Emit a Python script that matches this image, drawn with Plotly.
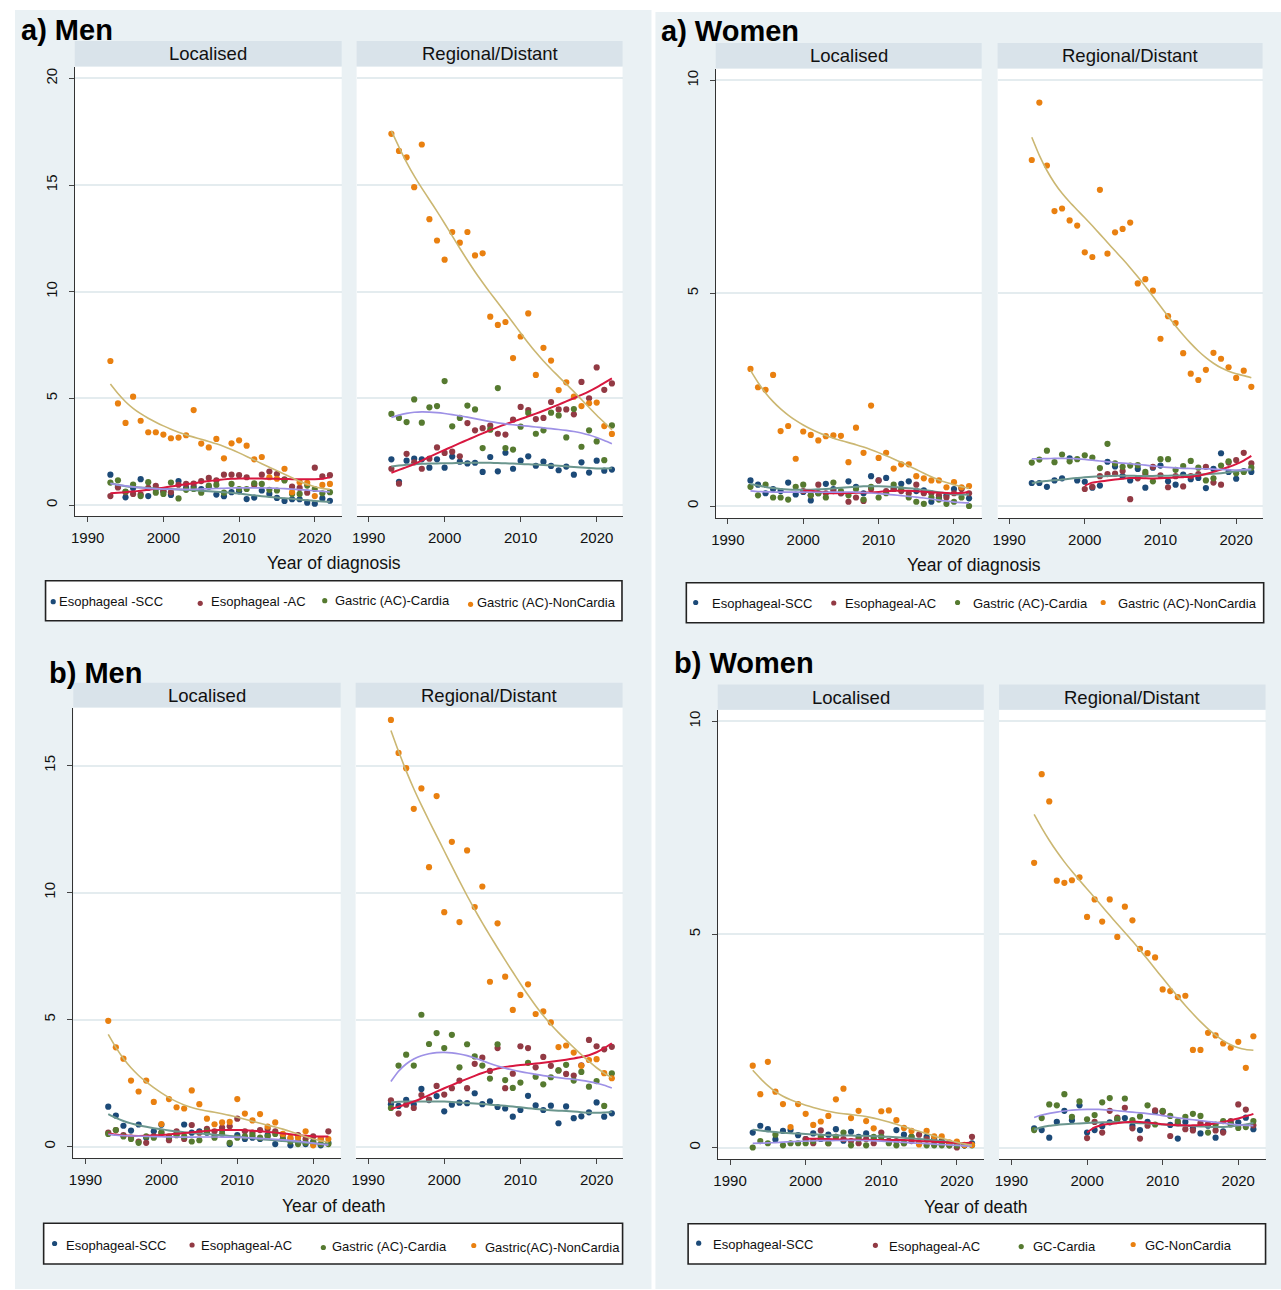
import numpy as np
import plotly.graph_objects as go

W, H = 1281, 1290
years = list(range(1993, 2023))
years_ac_women = list(range(2000, 2023))

# ---------------- a) Men : year of diagnosis ----------------
am_loc_scc = [1.42,0.85,0.36,0.8,1.21,0.42,0.75,0.64,0.47,1.12,0.8,0.85,0.75,0.85,0.49,0.41,0.6,0.64,0.28,0.35,0.68,0.52,0.33,0.19,0.27,0.27,0.11,0.06,0.31,0.2]
am_loc_ac = [0.42,0.82,0.6,0.52,0.5,0.8,0.9,0.65,0.6,0.95,0.99,1.0,1.12,1.27,1.15,1.42,1.42,1.4,1.3,0.94,1.42,1.57,1.45,1.2,0.86,0.8,0.58,1.75,1.34,1.4]
am_loc_card = [1.05,1.16,0.63,0.96,0.42,1.07,0.58,0.52,1.05,0.31,0.71,0.75,0.58,0.91,0.94,0.58,0.99,0.75,0.75,1.02,0.99,0.71,0.68,1.15,0.52,0.52,0.91,0.75,0.55,0.6]
am_loc_nc = [6.75,4.76,3.85,5.08,3.95,3.41,3.41,3.3,3.13,3.16,3.27,4.45,2.88,2.7,3.1,2.19,2.89,3.03,2.78,2.14,2.25,1.3,1.23,1.7,0.6,1.07,1.04,0.42,0.94,0.99]
am_reg_scc = [2.14,1.09,2.08,2.17,2.14,1.75,2.14,1.75,2.27,2.03,1.95,1.98,1.55,2.25,1.58,2.45,1.7,2.08,2.28,1.84,2.03,1.83,1.63,1.8,1.42,2.0,1.52,2.08,1.61,1.66]
am_reg_ac = [1.7,1.0,2.4,2.0,1.7,2.17,2.7,2.44,2.5,2.28,3.84,3.5,3.6,3.72,3.34,3.3,4.0,4.6,4.45,4.03,4.08,4.83,4.48,4.48,4.25,5.77,5.0,6.45,5.4,5.7]
am_reg_card = [4.27,4.08,3.89,4.95,3.86,4.58,4.64,5.81,3.69,4.08,4.66,4.48,2.67,3.53,5.48,2.67,2.6,3.67,4.31,3.34,3.5,4.33,4.2,3.17,4.5,2.73,3.5,2.98,2.1,3.73]
am_reg_nc = [17.4,16.6,16.3,14.9,16.9,13.4,12.4,11.5,12.8,12.3,12.8,11.7,11.8,8.83,8.44,8.58,6.89,7.9,8.98,6.1,7.37,6.77,5.39,5.75,5.08,4.64,4.77,4.8,3.7,3.33]

# ---------------- a) Women : year of diagnosis ----------------
aw_loc_scc = [0.6,0.5,0.3,0.4,0.35,0.55,0.27,0.33,0.13,0.3,0.52,0.4,0.3,0.58,0.45,0.3,0.7,0.6,0.66,0.4,0.52,0.58,0.35,0.37,0.1,0.2,0.25,0.4,0.42,0.18]
aw_loc_ac = [0.35,0.25,0.5,0.3,0.35,0.3,0.1,0.2,0.12,0.4,0.6,0.35,0.4,0.35,0.3,0.5,0.3,0.3,0.25,0.2,0.3,0.4,0.3]
aw_loc_card = [0.45,0.25,0.5,0.2,0.2,0.15,0.45,0.5,0.25,0.3,0.2,0.55,0.35,0.25,0.4,0.15,0.45,0.2,0.3,0.5,0.4,0.2,0.1,0.05,0.2,0.15,0.05,0.1,0.2,0.0]
aw_loc_nc = [3.22,2.79,2.73,3.08,1.76,1.88,1.11,1.75,1.67,1.54,1.64,1.66,1.65,1.03,1.84,1.25,2.36,1.13,1.25,0.88,0.98,0.98,0.7,0.65,0.6,0.6,0.44,0.56,0.44,0.47]
aw_reg_scc = [0.54,0.54,0.45,0.6,0.65,1.12,0.6,0.57,0.43,0.48,1.04,0.93,0.7,0.6,0.87,0.43,0.9,0.95,0.58,0.5,0.74,0.63,0.66,0.42,0.87,1.24,0.8,0.64,0.82,0.8]
aw_reg_ac = [0.4,0.45,0.7,0.75,0.76,0.82,0.16,0.65,0.75,0.92,0.72,0.44,0.7,0.46,0.7,0.75,0.92,0.55,0.5,1.02,1.08,1.25,1.0]
aw_reg_card = [1.02,1.09,1.3,1.03,1.21,1.05,1.1,1.19,1.14,0.89,1.46,1.0,0.92,0.95,0.96,0.8,0.58,1.1,1.1,0.85,0.94,1.06,0.9,0.6,0.65,0.95,1.05,0.77,0.8,0.9]
aw_reg_nc = [8.13,9.48,8.0,6.93,6.99,6.71,6.59,5.96,5.85,7.43,5.93,6.43,6.51,6.66,5.23,5.33,5.06,3.93,4.46,4.3,3.59,3.11,2.96,3.2,3.6,3.46,3.26,3.01,3.18,2.8]

# ---------------- b) Men : year of death ----------------
bm_loc_scc = [1.57,1.22,0.82,0.63,0.87,0.35,0.6,0.86,0.3,0.5,0.87,0.55,0.6,0.55,0.4,0.65,0.1,0.45,0.3,0.35,0.3,0.45,0.1,0.3,0.05,0.2,0.1,0.2,0.05,0.15]
bm_loc_ac = [0.55,0.65,0.45,0.35,0.2,0.15,0.4,0.55,0.25,0.6,0.3,0.85,0.55,0.7,0.6,0.75,0.8,1.1,0.6,0.55,0.65,0.7,0.6,0.45,0.3,0.45,0.3,0.4,0.3,0.6]
bm_loc_card = [0.5,0.65,0.4,0.3,0.15,0.4,0.35,0.55,0.4,0.45,0.4,0.2,0.25,0.6,0.35,0.5,0.15,0.35,0.4,0.45,0.35,0.4,0.5,0.3,0.2,0.1,0.15,0.15,0.1,0.1]
bm_loc_nc = [4.95,3.91,3.46,2.6,2.17,2.6,1.76,0.89,1.87,1.55,1.5,2.21,1.67,1.1,0.88,0.95,0.97,1.87,1.3,1.03,1.28,0.79,0.95,0.5,0.35,0.35,0.6,0.05,0.3,0.3]
bm_reg_scc = [1.67,1.6,1.84,1.67,2.27,1.83,1.99,1.39,1.65,1.73,1.71,2.1,1.67,1.78,1.56,1.5,1.18,1.44,2.0,1.62,1.44,1.61,0.92,1.58,1.12,1.19,1.35,1.74,1.18,1.31]
bm_reg_ac = [1.82,1.3,1.65,1.52,2.03,1.85,2.39,2.05,2.3,2.6,2.3,3.26,3.5,2.98,3.88,2.3,2.87,3.95,3.88,3.12,3.53,3.18,3.0,2.86,2.8,3.2,4.2,3.95,3.83,3.93]
bm_reg_card = [1.52,3.19,3.62,3.19,5.19,4.04,4.47,3.88,4.4,3.12,4.03,3.55,3.19,2.68,4.03,2.62,2.31,2.52,3.3,2.75,2.45,2.73,3.0,3.22,2.6,2.94,2.36,2.58,1.6,2.88]
bm_reg_nc = [16.8,15.5,14.9,13.3,14.1,11.0,13.8,9.23,12.0,8.84,11.66,9.43,10.24,6.49,8.79,6.69,5.38,5.97,6.39,5.22,5.32,4.89,3.92,3.98,3.7,3.18,3.41,3.44,2.89,2.69]

# ---------------- b) Women : year of death ----------------
bw_loc_scc = [0.35,0.51,0.43,0.19,0.39,0.41,0.29,0.2,0.33,0.2,0.3,0.43,0.16,0.37,0.25,0.33,0.2,0.25,0.15,0.41,0.3,0.25,0.1,0.25,0.2,0.15,0.1,0.1,0.05,0.1]
bw_loc_ac = [0.2,0.1,0.4,0.1,0.25,0.2,0.15,0.1,0.2,0.1,0.35,0.15,0.15,0.1,0.15,0.3,0.2,0.15,0.1,0.05,0.0,0.05,0.25]
bw_loc_card = [0.0,0.15,0.1,0.3,0.05,0.1,0.1,0.1,0.15,0.25,0.1,0.25,0.35,0.05,0.2,0.05,0.25,0.25,0.1,0.05,0.1,0.25,0.1,0.05,0.05,0.05,0.05,0.05,0.05,0.05]
bw_loc_nc = [1.92,1.25,2.01,1.31,1.02,0.48,1.02,0.79,0.53,0.61,0.74,1.13,1.38,0.69,0.86,0.62,0.45,0.85,0.87,0.64,0.46,0.39,0.07,0.39,0.26,0.26,0.12,0.14,0.06,0.06]
bw_reg_scc = [0.45,0.41,0.23,0.6,0.86,0.64,0.99,0.35,0.41,0.5,0.59,0.66,0.69,0.51,0.41,0.6,0.84,0.84,0.53,0.21,0.6,0.45,0.33,0.51,0.23,0.38,0.57,0.59,0.7,0.43]
bw_reg_ac = [0.22,0.6,0.35,0.86,0.7,0.93,0.45,0.21,0.51,0.87,0.84,0.27,0.57,0.43,0.4,0.57,0.55,0.4,0.35,0.62,1.01,0.89,0.52]
bw_reg_card = [0.41,0.69,1.01,0.99,1.25,0.72,1.08,0.66,0.76,1.06,1.16,0.67,1.15,0.64,0.73,0.99,0.54,0.86,0.74,0.62,0.72,0.79,0.74,0.35,0.54,0.62,0.54,0.46,0.48,0.62]
bw_reg_nc = [6.68,8.76,8.12,6.26,6.21,6.27,6.34,5.41,5.82,5.3,5.82,4.94,5.65,5.33,4.66,4.56,4.46,3.71,3.67,3.53,3.56,2.29,2.29,2.69,2.63,2.44,2.34,2.48,1.87,2.61]

# labels
strip_labels = ["Localised", "Regional/Distant"]
xtick_vals = [1990, 2000, 2010, 2020]
legend_am = ["Esophageal -SCC", "Esophageal -AC", "Gastric (AC)-Cardia", "Gastric (AC)-NonCardia"]
legend_aw = ["Esophageal-SCC", "Esophageal-AC", "Gastric (AC)-Cardia", "Gastric (AC)-NonCardia"]
legend_bm = ["Esophageal-SCC", "Esophageal-AC", "Gastric (AC)-Cardia", "Gastric(AC)-NonCardia"]
legend_bw = ["Esophageal-SCC", "Esophageal-AC", "GC-Cardia", "GC-NonCardia"]

# styles
FONT = "Liberation Sans, Arial, sans-serif"
marker_colors = ["#1c4a78", "#923a44", "#567a30", "#e98010"]
line_colors = ["#6b968e", "#d8173f", "#9e91e6", "#cbb772"]
line_widths = [2.0, 2.0, 1.7, 1.6]
BG = "#EAF1F4"
STRIP = "#D9E3EA"
GRID = "#E4ECEF"

panels = [
    dict(title="a) Men", title_pos=(14, 30), strip=(41, 66.5), plot=(66.5, 516),
         loc=(70, 338), reg=(353, 620), loc_t=(83, 311), reg_t=(365, 594),
         yref=(505, 78.4, 20), yticks=[0, 5, 10, 15, 20],
         xtitle="Year of diagnosis", xtitle_pos=(330, 563),
         data=[[am_loc_scc, am_loc_ac, am_loc_card, am_loc_nc],
               [am_reg_scc, am_reg_ac, am_reg_card, am_reg_nc]], ac_years=years,
         leg_labels=legend_am, leg_box=(40.7, 619.4, 580.7, 620.7),
         leg_dx=[48.4, 196, 321, 467.4], leg_dy=[601.7, 603.3, 600.7, 604.3],
         leg_tx=[52.2, 205, 329, 472], leg_ty=[601.7, 601.7, 600.3, 602.3]),
    dict(title="a) Women", title_pos=(657, 31), strip=(43, 68.6), plot=(68.6, 518),
         loc=(713.5, 980.5), reg=(996.5, 1262.5), loc_t=(725.7, 952.7), reg_t=(1008, 1236),
         yref=(506, 80.4, 10), yticks=[0, 5, 10],
         xtitle="Year of diagnosis", xtitle_pos=(972.6, 565),
         data=[[aw_loc_scc, aw_loc_ac, aw_loc_card, aw_loc_nc],
               [aw_reg_scc, aw_reg_ac, aw_reg_card, aw_reg_nc]], ac_years=years_ac_women,
         leg_labels=legend_aw, leg_box=(684, 1263.6, 582.7, 622.7),
         leg_dx=[693.4, 832, 956.3, 1102.5], leg_dy=[602.5, 603, 602.5, 602.5],
         leg_tx=[707.6, 841.5, 969.7, 1115.5], leg_ty=[603.3, 603.3, 603.3, 603.3]),
    dict(title="b) Men", title_pos=(42, 673), strip=(682.7, 707.6), plot=(707.6, 1158.2),
         loc=(68.6, 337), reg=(352, 620), loc_t=(80.8, 309.4), reg_t=(364.5, 593.9),
         yref=(1146.6, 765.6, 15), yticks=[0, 5, 10, 15],
         xtitle="Year of death", xtitle_pos=(330, 1206),
         data=[[bm_loc_scc, bm_loc_ac, bm_loc_card, bm_loc_nc],
               [bm_reg_scc, bm_reg_ac, bm_reg_card, bm_reg_nc]], ac_years=years,
         leg_labels=legend_bm, leg_box=(38.8, 620, 1223.3, 1264),
         leg_dx=[49.8, 187.8, 319.6, 470.6], leg_dy=[1243.5, 1245, 1247.5, 1245.5],
         leg_tx=[59.2, 195.1, 326.5, 479.6], leg_ty=[1245, 1245, 1246, 1247]),
    dict(title="b) Women", title_pos=(670, 662.8), strip=(684.4, 709.7), plot=(709.7, 1159),
         loc=(715.5, 982.6), reg=(998, 1265.5), loc_t=(727.9, 955.6), reg_t=(1010.4, 1238.1),
         yref=(1147.5, 721.3, 10), yticks=[0, 5, 10],
         xtitle="Year of death", xtitle_pos=(974.7, 1206.7),
         data=[[bw_loc_scc, bw_loc_ac, bw_loc_card, bw_loc_nc],
               [bw_reg_scc, bw_reg_ac, bw_reg_card, bw_reg_nc]], ac_years=years_ac_women,
         leg_labels=legend_bw, leg_box=(685.8, 1265.5, 1223.7, 1264),
         leg_dx=[696.4, 873.8, 1020.2, 1132.6], leg_dy=[1243.2, 1245.3, 1246.6, 1244.5],
         leg_tx=[708.7, 885.3, 1030.4, 1142], leg_ty=[1244, 1246, 1246.6, 1245]),
]


def px(x):
    return x / W


def py(y):
    return 1 - y / H


def lowess_fit(xs, ys, bwidth=0.8):
    """Running-line lowess with tricube weights (as in Stata's lowess)."""
    x = np.asarray(xs, float)
    y = np.asarray(ys, float)
    n = len(x)
    k = int(np.floor((n * bwidth - 0.5) / 2))
    out = np.empty(n)
    for i in range(n):
        lo, hi = max(0, i - k), min(n - 1, i + k)
        xx, yy = x[lo:hi + 1], y[lo:hi + 1]
        delta = 1.0001 * max(x[hi] - x[i], x[i] - x[lo])
        w = (1 - (np.abs(xx - x[i]) / delta) ** 3) ** 3
        sw = w.sum()
        mx, my = (w * xx).sum() / sw, (w * yy).sum() / sw
        sxx = (w * (xx - mx) ** 2).sum()
        b = (w * (xx - mx) * (yy - my)).sum() / sxx if sxx > 0 else 0.0
        out[i] = my + b * (x[i] - mx)
    return x, out


fig = go.Figure()
shapes = []
annotations = []
layout_axes = {}

# column backgrounds
shapes.append(dict(type="rect", xref="paper", yref="paper", x0=px(10), x1=px(649), y0=py(1289), y1=py(10),
                   fillcolor=BG, line=dict(width=0), layer="below"))
shapes.append(dict(type="rect", xref="paper", yref="paper", x0=px(653), x1=px(1281), y0=py(1289), y1=py(12),
                   fillcolor=BG, line=dict(width=0), layer="below"))

idx = 0
for p in panels:
    y_top, y_bot = p["plot"]
    y0pix, ytpix, ytop_val = p["yref"]
    yscale = (y0pix - ytpix) / ytop_val
    yr = [(y0pix - y_bot) / yscale, (y0pix - y_top) / yscale]
    for s, (xspan, tref) in enumerate([(p["loc"], p["loc_t"]), (p["reg"], p["reg_t"])]):
        idx += 1
        xa = "x" if idx == 1 else f"x{idx}"
        ya = "y" if idx == 1 else f"y{idx}"
        x0, x1 = xspan
        xscale = (tref[1] - tref[0]) / 30.0
        xr = [1990 + (x0 - tref[0]) / xscale, 1990 + (x1 - tref[0]) / xscale]
        shapes.append(dict(type="rect", xref="paper", yref="paper", x0=px(x0), x1=px(x1), y0=py(y_bot), y1=py(y_top),
                           fillcolor="white", line=dict(width=0), layer="below"))
        shapes.append(dict(type="rect", xref="paper", yref="paper", x0=px(x0), x1=px(x1),
                           y0=py(p["strip"][1]), y1=py(p["strip"][0]),
                           fillcolor=STRIP, line=dict(width=0), layer="below"))
        annotations.append(dict(text=strip_labels[s], x=px((x0 + x1) / 2), y=py(sum(p["strip"]) / 2),
                                xref="paper", yref="paper", showarrow=False, xanchor="center", yanchor="middle",
                                font=dict(family=FONT, size=18.5, color="#111")))
        layout_axes["xaxis" if idx == 1 else f"xaxis{idx}"] = dict(
            domain=[px(x0), px(x1)], range=xr, anchor=ya, tickvals=xtick_vals,
            ticks="outside", ticklen=5, tickwidth=1, tickcolor="#444", showline=True, linecolor="#333",
            linewidth=1.2, showgrid=False, zeroline=False, ticklabelstandoff=3,
            tickfont=dict(family=FONT, size=15, color="#111"), fixedrange=True)
        loc = s == 0
        layout_axes["yaxis" if idx == 1 else f"yaxis{idx}"] = dict(
            domain=[py(y_bot), py(y_top)], range=yr, anchor=xa, tickvals=p["yticks"],
            showgrid=True, gridcolor=GRID, gridwidth=1.6, zeroline=False,
            showline=loc, linecolor="#333", linewidth=1.2,
            ticks="outside" if loc else "", ticklen=5, tickwidth=1, tickcolor="#444",
            showticklabels=loc, tickangle=-90, ticklabelstandoff=6,
            tickfont=dict(family=FONT, size=15, color="#111"), fixedrange=True)
        series = p["data"][s]
        for k in range(4):
            yrs = p["ac_years"] if k == 1 else years
            fig.add_trace(go.Scatter(x=yrs, y=series[k], mode="markers", xaxis=xa, yaxis=ya,
                                     marker=dict(size=6.2, color=marker_colors[k], line=dict(width=0)),
                                     showlegend=False, hoverinfo="x+y"))
        for k in range(4):
            yrs = p["ac_years"] if k == 1 else years
            xf, yf = lowess_fit(yrs, series[k])
            fig.add_trace(go.Scatter(x=xf, y=yf, mode="lines", xaxis=xa, yaxis=ya,
                                     line=dict(color=line_colors[k], width=line_widths[k], shape="spline",
                                               smoothing=0.6),
                                     showlegend=False, hoverinfo="skip"))
    annotations.append(dict(text=p["title"], x=px(p["title_pos"][0]), y=py(p["title_pos"][1]),
                            xref="paper", yref="paper", showarrow=False, xanchor="left", yanchor="middle",
                            font=dict(family=FONT, size=29, color="#000", weight="bold")))
    annotations.append(dict(text=p["xtitle"], x=px(p["xtitle_pos"][0]), y=py(p["xtitle_pos"][1]),
                            xref="paper", yref="paper", showarrow=False, xanchor="center", yanchor="middle",
                            font=dict(family=FONT, size=17.5, color="#111")))
    bx0, bx1, by0, by1 = p["leg_box"]
    shapes.append(dict(type="rect", xref="paper", yref="paper", x0=px(bx0), x1=px(bx1), y0=py(by1), y1=py(by0),
                       fillcolor="white", line=dict(color="#222", width=1.6), layer="below"))
    for k in range(4):
        dx, dy = p["leg_dx"][k], p["leg_dy"][k]
        r = 2.6
        shapes.append(dict(type="circle", xref="paper", yref="paper", x0=px(dx - r), x1=px(dx + r),
                           y0=py(dy + r), y1=py(dy - r), fillcolor=marker_colors[k],
                           line=dict(width=0), layer="above"))
        annotations.append(dict(text=p["leg_labels"][k], x=px(p["leg_tx"][k]), y=py(p["leg_ty"][k]),
                                xref="paper", yref="paper", showarrow=False, xanchor="left", yanchor="middle",
                                font=dict(family=FONT, size=13, color="#111")))

fig.update_layout(
    width=W, height=H, margin=dict(l=0, r=0, t=0, b=0),
    paper_bgcolor="white", plot_bgcolor="white",
    showlegend=False, shapes=shapes, annotations=annotations,
    font=dict(family=FONT), hovermode="closest",
    **layout_axes,
)

fig.write_html("out.html", config={"displayModeBar": False},
               post_script="document.body.style.margin='0px';document.body.style.overflow='hidden';")
